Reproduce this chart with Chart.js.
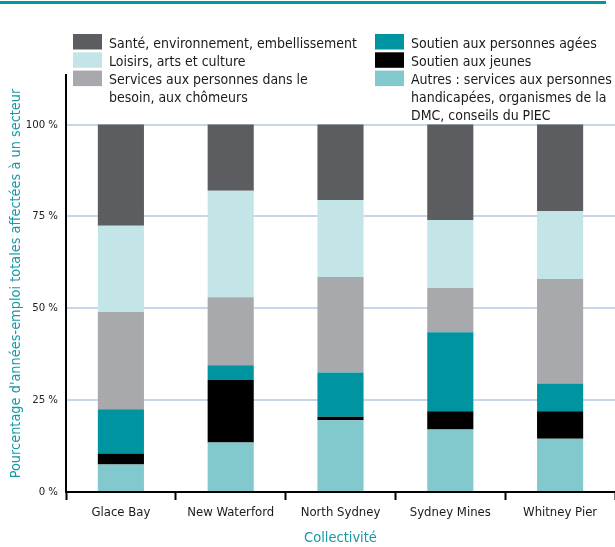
<!DOCTYPE html>
<html>
<head>
<meta charset="utf-8">
<script src="https://cdn.jsdelivr.net/npm/chart.js@4/dist/chart.umd.min.js"></script>
<style>
  html, body { margin: 0; padding: 0; background: #ffffff; }
  #wrap { width: 615px; height: 547px; position: relative; }
</style>
</head>
<body>
<div id="wrap"><canvas id="c" width="615" height="547"></canvas></div>
<script>
// Communities along the x axis
const categories = ['Glace Bay', 'New Waterford', 'North Sydney', 'Sydney Mines', 'Whitney Pier'];

// Share (%) of total person-years by sector, bottom of the stack first
const autres   = [7.5, 13.5, 19.5, 17.0, 14.5];
const jeunes   = [3.0, 17.0, 1.0, 5.0, 7.5];
const agees    = [12.0, 4.0, 12.0, 21.5, 7.5];
const services = [26.5, 18.5, 26.0, 12.0, 28.5];
const loisirs  = [23.5, 29.0, 21.0, 18.5, 18.5];
const sante    = [27.5, 18.0, 20.5, 26.0, 23.5];

// Y axis tick values
const yTicks = [0, 25, 50, 75, 100];

const TEAL = '#1499a6';
const FONT = '"Liberation Sans Narrow", "DejaVu Sans Condensed", "Liberation Sans", sans-serif';

const series = [
  { label: 'Autres : services aux personnes handicapées, organismes de la DMC, conseils du PIEC', data: autres, color: '#82c9ce',
    lines: ['Autres : services aux personnes', 'handicapées, organismes de la', 'DMC, conseils du PIEC'] },
  { label: 'Soutien aux jeunes', data: jeunes, color: '#000000', lines: ['Soutien aux jeunes'] },
  { label: 'Soutien aux personnes agées', data: agees, color: '#0093a0', lines: ['Soutien aux personnes agées'] },
  { label: 'Services aux personnes dans le besoin, aux chômeurs', data: services, color: '#a8a9ac',
    lines: ['Services aux personnes dans le', 'besoin, aux chômeurs'] },
  { label: 'Loisirs, arts et culture', data: loisirs, color: '#c4e5e8', lines: ['Loisirs, arts et culture'] },
  { label: 'Santé, environnement, embellissement', data: sante, color: '#5c5d60', lines: ['Santé, environnement, embellissement'] }
];

// Two-column legend and the rule across the top of the figure
const legendColumns = [
  { x: 73, items: [5, 4, 3] },
  { x: 375, items: [2, 1, 0] }
];

const decorPlugin = {
  id: 'decor',
  afterDraw(chart) {
    const ctx = chart.ctx;
    ctx.save();
    ctx.fillStyle = '#0096a2';
    ctx.fillRect(0, 1, 606, 3);

    // size the legend text so the longest entry spans about 248 px
    ctx.font = '14px ' + FONT;
    const w = ctx.measureText('Santé, environnement, embellissement').width;
    const size = Math.min(16, 14 * 248 / w);
    ctx.font = size.toFixed(2) + 'px ' + FONT;
    ctx.textBaseline = 'middle';
    ctx.textAlign = 'left';
    const rowH = 17.7;
    legendColumns.forEach(col => {
      let y = 44;
      col.items.forEach(i => {
        const s = series[i];
        ctx.fillStyle = s.color;
        ctx.fillRect(col.x, y - 10, 29, 15.5);
        ctx.fillStyle = '#1a1a1a';
        s.lines.forEach((t, k) => {
          ctx.fillText(t, col.x + 36, y + k * rowH);
        });
        y += rowH * s.lines.length + (s.lines.length > 1 ? 0 : 0.6);
      });
    });
    ctx.restore();
  }
};

new Chart(document.getElementById('c'), {
  type: 'bar',
  data: {
    labels: categories,
    datasets: series.map(s => ({
      label: s.label,
      data: s.data,
      backgroundColor: s.color,
      borderWidth: 0,
      categoryPercentage: 1,
      barPercentage: 0.42
    }))
  },
  options: {
    responsive: false,
    animation: false,
    layout: { padding: { top: 75, right: 0, left: 8, bottom: 0 } },
    plugins: {
      legend: { display: false },
      tooltip: { enabled: false }
    },
    scales: {
      x: {
        stacked: true,
        grid: {
          display: true,
          drawOnChartArea: false,
          drawTicks: true,
          tickLength: 8,
          tickWidth: 2,
          color: '#000000',
          offset: true
        },
        border: { display: true, color: '#000000', width: 2 },
        ticks: {
          color: '#1a1a1a',
          font: { family: FONT, size: 13 },
          padding: 5
        },
        title: {
          display: true,
          text: 'Collectivité',
          color: TEAL,
          font: { family: FONT, size: 14.5 },
          padding: { top: 4, bottom: 0 }
        }
      },
      y: {
        stacked: true,
        min: 0,
        max: 113.5,
        afterBuildTicks(scale) {
          scale.ticks = yTicks.map(v => ({ value: v }));
        },
        afterFit(scale) {
          scale.width = 58;
        },
        grid: {
          color: ctx => (ctx.tick && ctx.tick.value === 0) ? 'rgba(0,0,0,0)' : '#c9d5e8',
          lineWidth: 2,
          drawTicks: false
        },
        border: { display: true, color: '#000000', width: 2 },
        ticks: {
          color: '#222222',
          font: { family: FONT, size: 11.3 },
          padding: 8,
          callback: v => v + ' %'
        },
        title: {
          display: true,
          text: "Pourcentage d'années-emploi totales affectées à un secteur",
          color: TEAL,
          font: { family: FONT, size: 14.4 },
          padding: { top: 0, bottom: 0 }
        }
      }
    }
  },
  plugins: [decorPlugin]
});
</script>
</body>
</html>
